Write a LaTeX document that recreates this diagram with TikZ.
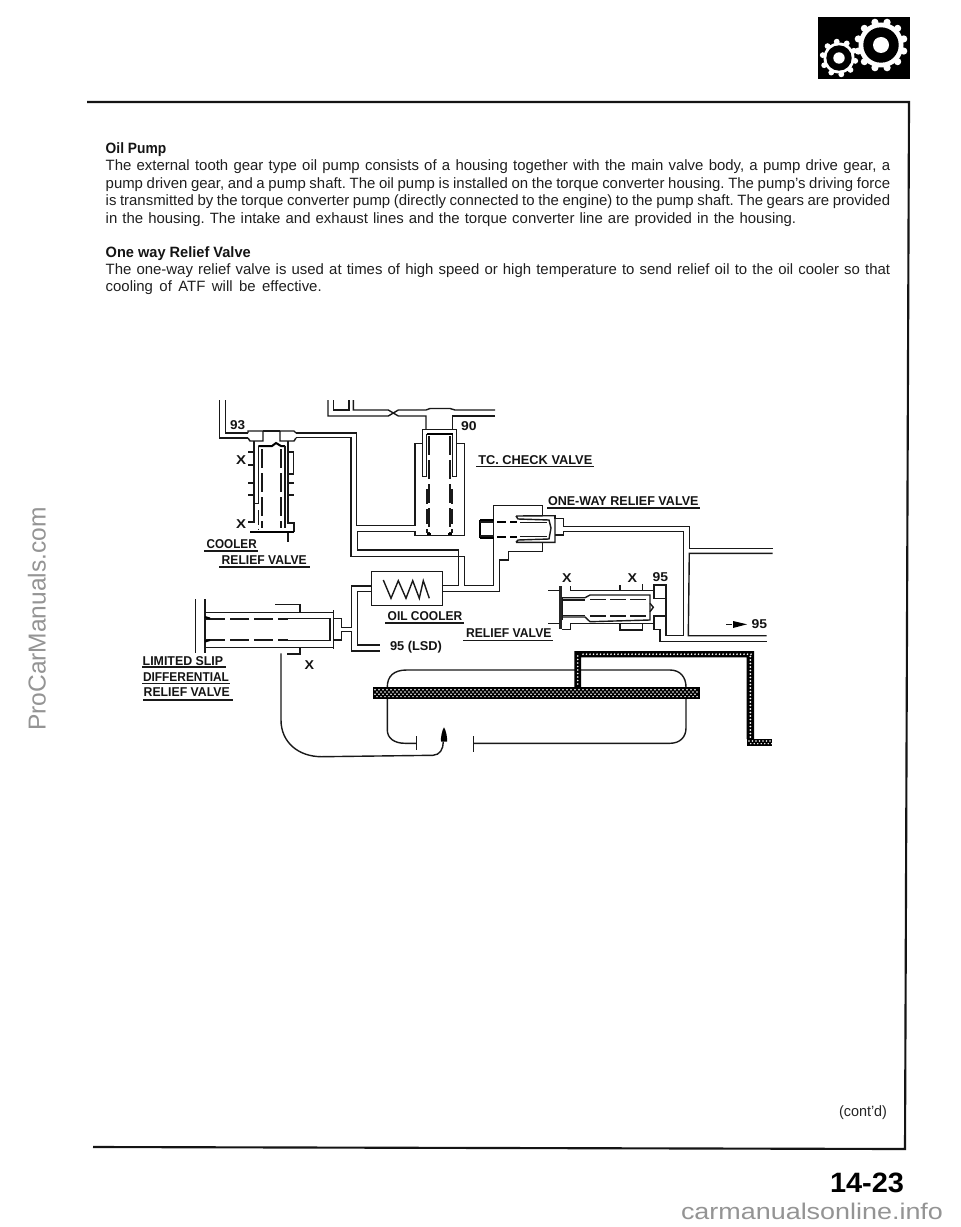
\documentclass[tikz,border=0pt]{standalone}
\usepackage{fontspec}
\setmainfont{Liberation Sans}[Ligatures=ResetAll]
\newdimen\pxu \pxu=0.75pt
\tikzset{
 ln/.style={line width=1.05pt,line join=miter,color=black!90},
 thk/.style={line width=1.5pt,color=black},
 dsh/.style={line width=1.05pt,dash pattern=on 14pt off 4pt,color=black!90},
 ul/.style={line width=1.2pt,color=black!90},
 tx/.style={anchor=base west,inner sep=0pt,outer sep=0pt},
 bodytext/.style={tx,font=\fontsize{11.2pt}{12pt}\selectfont,color=black!88},
 tagtext/.style={tx,font=\fontsize{9.6pt}{11pt}\bfseries\selectfont,color=black!92},
 wmark/.style={inner sep=0pt,color=black!42,font=\fontsize{18.4pt}{20pt}\selectfont},
 pageframe/.style={line width=1.6pt,color=black!92},
 hdot/.style={fill=white},
}
\newcommand{\lbl}[5]{\node[tagtext] (#1) at (#2,#3) {\resizebox{#4\pxu}{\height}{#5}};}
\newcommand{\fitline}[5]{\node[bodytext] (#1) at (#2,#3) {\makebox[#4\pxu][s]{#5}};}
\begin{document}
\frenchspacing
\begin{tikzpicture}[x=0.75pt,y=-0.75pt]
\useasboundingbox (0,0) rectangle (960,1227);
\fill[white] (0,0) rectangle (960,1227);
% page frame
\draw[pageframe] (87,102) -- (909,102) -- (905,1149) -- (93,1147);
% gear icon
\fill[black] (818,17.5) rectangle (910,79);
\fill[white] (881,45) circle (22.5);
\foreach \a in {0,30,...,330}{\fill[white] (881,45) ++ (\a+15:23.5) circle (3.6);}
\fill[black] (881,45) circle (17.7);
\fill[white] (881,45) circle (8);
\fill[white] (839,58) circle (15.5);
\foreach \a in {0,36,...,324}{\fill[white] (839,58) ++ (\a+10:16.5) circle (2.9);}
\fill[black] (839,58) circle (12.7);
\fill[white] (839,58) circle (5.7);
% body text
\node[tx,font=\fontsize{11.2pt}{12pt}\bfseries\selectfont,color=black!92] (h1) at (105.7,153.7) {\resizebox{60.5\pxu}{\height}{Oil Pump}};
\fitline{l1}{105.7}{171}{784.5}{The external tooth gear type oil pump consists of a housing together with the main valve body, a pump drive gear, a}
\fitline{l2}{105.7}{188.3}{784.5}{pump driven gear, and a pump shaft. The oil pump is installed on the torque converter housing. The pump's driving force}
\fitline{l3}{105.7}{205.7}{784.5}{is transmitted by the torque converter pump (directly connected to the engine) to the pump shaft. The gears are provided}
\fitline{l4}{105.7}{223}{690.5}{in the housing. The intake and exhaust lines and the torque converter line are provided in the housing.}
\node[tx,font=\fontsize{11.2pt}{12pt}\bfseries\selectfont,color=black!92] (h2) at (105.7,257) {\resizebox{145\pxu}{\height}{One way Relief Valve}};
\fitline{l5}{105.7}{274.3}{784.5}{The one-way relief valve is used at times of high speed or high temperature to send relief oil to the oil cooler so that}
\fitline{l6}{105.7}{291.7}{216}{cooling of ATF will be effective.}
% left valve
\draw[ln] (219.3,400) -- (219.3,438) -- (248,438);
\draw[ln] (225.7,400) -- (225.7,433) -- (248,433);
\draw[ln] (248,433) -- (248,431) -- (263,431) -- (263,441) -- (250,441) -- (248,438);
\draw[ln] (296,433) -- (294,431) -- (280,431) -- (280,441) -- (294,441) -- (296,438);
\draw[ln] (263,431) -- (280,431);
\draw[ln] (296,433) -- (356.7,433) -- (356.7,525.7) -- (415,525.7);
\draw[ln] (296,437.7) -- (351,437.7) -- (351,556.7) -- (464.3,556.7) -- (464.3,585.7) -- (493.3,585.7) -- (493.3,520);
\draw[ln] (254,441) -- (254,503.5) -- (258.3,503.5);
\draw[ln] (254,503.5) -- (254,522) -- (248,522);
\draw[ln] (288,441) -- (288,523) -- (294,523) -- (294,531.5);
\draw[thk] (258.3,446) -- (272,446) -- (276,443) -- (281,446) -- (285,446);
\draw[ln] (258.3,503.5) -- (258.3,446);
\draw[ln] (285,446) -- (285,528);
\draw[ln,dash pattern=on 11pt off 3pt] (258.3,510) -- (258.3,529);
\draw[dsh] (262,449) -- (262,528);
\draw[dsh] (281,449) -- (281,528);
\draw[ln] (288,452) -- (293.5,452) -- (293.5,474) -- (288,474);
\foreach \yy in {452,465,483,495}{\draw[ln] (248,\yy) -- (254,\yy);}
\foreach \yy in {483,495}{\draw[ln] (288,\yy) -- (294,\yy);}
\draw[thk] (250,532) -- (294,532);
\draw[ln] (288,533) -- (288,542);
% TC check valve piping
\draw[ln] (328,400) -- (328,416) -- (388.3,416) -- (393.3,413) -- (398.3,416) -- (426,416) -- (426,429.3);
\draw[ln] (353.3,400) -- (353.3,410) -- (388.3,410) -- (393.3,413) -- (398.3,410) -- (426,410) -- (430,408.5) -- (450,408.5) -- (455,410) -- (495,410);
\draw[ln] (333.7,400) -- (333.7,410) -- (349,410) -- (349,400);
\draw[ln] (495,416) -- (452.7,416) -- (452.7,429.3);
\draw[ln] (422.7,443.3) -- (415,443.3) -- (415,525.7);
\draw[ln] (457,443.3) -- (464.3,443.3) -- (464.3,535.7) -- (415,535.7) -- (415,531.7) -- (357.7,531.7) -- (357.7,550) -- (458.3,550) -- (458.3,585.7) -- (442.3,585.7);
\draw[ln] (422.7,476.7) -- (422.7,429.3) -- (456.7,429.3) -- (456.7,476.7);
\draw[ln] (426.5,476.7) -- (426.5,434.3);
\draw[ln] (452.7,434.3) -- (452.7,476.7);
\draw[thk] (426.5,434.3) -- (452.7,434.3);
\draw[ln] (422.7,476.7) -- (426.5,476.7) (456.7,476.7) -- (452.7,476.7);
\draw[dsh] (429,436) -- (429,533);
\draw[dsh] (450,436) -- (450,533);
\draw[ln,dash pattern=on 11pt off 4pt] (427,489) -- (427,533);
\draw[ln,dash pattern=on 11pt off 4pt] (452,489) -- (452,533);
\draw[thk] (427,534) -- (431,534) (448,534) -- (452,534);
% one-way relief valve
\draw[ln] (493.3,520) -- (493.3,505.7) -- (542.7,505.7) -- (542.7,515.7);
\draw[ln] (493.3,538) -- (493.3,585.7);
\draw[ln] (542.7,542.3) -- (542.7,551.7) -- (508.3,551.7) -- (508.3,560) -- (499.3,560) -- (499.3,591.7) -- (442.3,591.7);
\draw[thk] (480,520) -- (480,537.5) (480,520) -- (494,520) (480,537.5) -- (494,537.5);
\draw[ln] (480,522) -- (494,522) (480,536) -- (494,536);
\draw[thk,dash pattern=on 7pt off 3pt] (497,522) -- (517,522) (497,537) -- (517,537);
\draw[ln] (516,516) -- (555,515.7) -- (555,542.3) -- (516,542.3) (516,516) -- (518,519) -- (549,520) -- (551,528) -- (549,539) -- (518,540) -- (516,542.3);
\draw[ln] (520,522.5) -- (547,522.5) (520,536.5) -- (547,536.5);
\draw[ln] (542.7,515.7) -- (555,515.7) -- (555,518.3) -- (563.3,518.3) -- (563.3,526.7) -- (689.3,526.7) -- (689.3,548.3) -- (772.7,548.3);
\draw[ln] (555,535) -- (563.3,535) -- (563.3,531.7) -- (683.3,531.7) -- (683.3,635.7) -- (666,635.7);
\draw[ln] (772.7,553.3) -- (689.3,553.3) -- (688.3,635.7) -- (766.7,635.7);
% right relief valve
\draw[line width=2.2pt,color=black!85] (560.7,586) -- (560.7,629.3);
\draw[ln] (548.3,590.7) -- (560,590.7) (548.3,623.3) -- (560,623.3);
\draw[ln] (570.7,586) -- (570.7,590.7) -- (654,590.7) -- (654,585) -- (666,585) -- (666,635.7);
\draw[ln] (654,590.7) -- (654,598.3) -- (666,598.3);
\draw[ln] (666,616) -- (654,616) -- (654,629.3) -- (660,629.3) -- (660,641.7) -- (766.7,641.7);
\draw[ln] (562,629.3) -- (570.7,629.3) -- (570.7,623.3) -- (654,623.3);
\draw[ln] (620,624) -- (620,630) -- (642.7,630) -- (642.7,624);
\draw[ln] (620,585) -- (620,590.7) (642.7,584) -- (642.7,590.7);
\draw[ln] (562.7,597) -- (562.7,620);
\draw[ln] (563,597.7) -- (585,597.7) -- (590,595) -- (650,595) -- (650,620) -- (590,621.7) -- (585,617) -- (563,617);
\draw[ln,dash pattern=on 12pt off 3pt] (590,599.3) -- (648,599.3) (590,616) -- (648,616);
\draw[ln] (650,603.3) -- (653.3,607.3) -- (650,611.7);
\draw[ln] (563,600) -- (585,600) (563,615.5) -- (585,615.5);
% right arrow
\coordinate (arrT) at (747,624.3);
\coordinate (arrS) at (726,624.3);
\draw[ln] (arrS) -- (732,624.3);
\fill[black] (arrT) -- (733,621) -- (733,628) -- cycle;
% limited slip valve
\draw[ln] (195.7,599.3) -- (195.7,652.7);
\draw[ln] (205,599.3) -- (205,652.7);
\draw[ln] (205,612.7) -- (333.3,612.7);
\draw[ln] (205,647.3) -- (333.3,647.3);
\draw[ln] (288,618.3) -- (330,618.3) -- (330,640.7) -- (288,640.7);
\draw[dsh] (206,619) -- (288,619) (206,640) -- (288,640);
\draw[thk] (205,617) -- (210,618.5) (205,641.5) -- (210,640);
\draw[ln] (333.3,610) -- (333.3,649.3);
\draw[ln] (275,604.3) -- (300,604.3) -- (300,612.7);
\draw[ln] (287,654) -- (300,654) -- (300,647.3);
\draw[ln] (333.3,618.3) -- (341.7,618.3) -- (341.7,627.3) -- (351.7,627.3) -- (351.7,586) -- (371.7,586);
\draw[ln] (333.3,640) -- (341.7,640) -- (341.7,631.7) -- (351.7,631.7) -- (351.7,651) -- (380,651);
\draw[ln] (371.7,591.7) -- (357.3,591.7) -- (357.3,645) -- (380,645);
% oil cooler
\draw[ln] (371.7,571.7) rectangle (442.3,605.7);
\draw[ln] (383.3,580) -- (391,598.3) -- (398.3,580.7) -- (406,598.3) -- (412.7,580.7) -- (419.3,598.3) -- (423.3,580.7) -- (429.3,598.3);
% tank
\draw[ln] (387.3,687) .. controls (387.3,676) and (394,670) .. (406.7,670) -- (670,670) .. controls (680,670) and (686,677) .. (686,687) -- (686,728) .. controls (686,737) and (680,743.3) .. (670,743.3) -- (473.3,743.3);
\draw[ln] (473.3,736) -- (473.3,751.7);
\draw[ln] (387.3,699) -- (387.3,730) .. controls (387.3,738) and (394,743.3) .. (405,743.3) -- (416.7,743.3);
\draw[ln] (416.7,736) -- (416.7,750);
\draw[ln] (281,653.3) -- (281,720) .. controls (281,742) and (298,756.7) .. (321.7,756.7) -- (433,755.3) .. controls (440,755) and (443.3,749) .. (443.3,741.7);
\fill[black] (444,727.3) .. controls (446,730) and (447.5,738) .. (447,741.5) -- (441,741.5) .. controls (440.5,738) and (442,730) .. (444,727.3) -- cycle;
% hatched pipes
\fill[black] (373.3,687.3) rectangle (700,699.3);
\fill[black] (574.3,651) -- (754,651) -- (754,739) -- (746.7,739) -- (746.7,657.3) -- (581,657.3) -- (581,687.3) -- (574.3,687.3) -- cycle;
\fill[black] (746.7,739) rectangle (771.7,745.7);
\foreach \i in {0,...,80}{
 \fill[hdot] (375+4*\i,689.8) circle (0.85);
 \fill[hdot] (377+4*\i,692) circle (0.85);
 \fill[hdot] (375+4*\i,694.2) circle (0.85);
 \fill[hdot] (377+4*\i,696.6) circle (0.85);
}
\foreach \i in {0,...,48}{\fill[hdot] (583+3.5*\i,654.2) circle (0.95);}
\foreach \i in {0,...,23}{\fill[hdot] (750.4,656.5+3.5*\i) circle (0.95);}
\foreach \i in {0,...,8}{\fill[hdot] (577.7,656+3.5*\i) circle (0.95);}
\foreach \i in {0,...,6}{\fill[hdot] (749+3.5*\i,741) circle (0.8); \fill[hdot] (750.7+3.5*\i,743.6) circle (0.8);}
% labels
\lbl{n93}{230}{429}{15}{93}
\lbl{x1}{236}{464.5}{10}{X}
\lbl{x2}{236}{528}{10}{X}
\lbl{cool}{206.7}{548.3}{50}{COOLER}
\draw[ul] (204,550.7) -- (258,550.7);
\lbl{rv1}{221.7}{564}{85}{RELIEF VALVE}
\draw[ul] (219,566.7) -- (310,566.7);
\lbl{n90}{461}{430.7}{15.5}{90}
\lbl{tc}{478.3}{464}{114}{TC. CHECK VALVE}
\draw[ul] (476,466.3) -- (594,466.3);
\lbl{ow}{548}{505.7}{150.5}{ONE-WAY RELIEF VALVE}
\draw[ul] (547,508) -- (700,508);
\lbl{x3}{562}{582.3}{9.5}{X}
\lbl{x4}{627.5}{582.3}{9.5}{X}
\lbl{n95a}{652.7}{581}{15.5}{95}
\lbl{oc}{387.7}{620}{74.5}{OIL COOLER}
\draw[ul] (385,622.7) -- (464,622.7);
\lbl{rv2}{466}{637.7}{85.5}{RELIEF VALVE}
\draw[ul] (463,640.3) -- (553,640.3);
\lbl{lsd}{390}{650}{52}{95 (LSD)}
\lbl{ls}{142.7}{665}{80.5}{LIMITED SLIP}
\draw[ul] (142,667) -- (226,667);
\lbl{df}{143}{681}{86}{DIFFERENTIAL}
\draw[ul] (142,683.3) -- (230,683.3);
\lbl{rv3}{143.7}{696.7}{86}{RELIEF VALVE}
\draw[ul] (143,699.7) -- (233,699.7);
\lbl{x5}{304.5}{669}{9.5}{X}
\lbl{n95b}{751.7}{628.3}{15.5}{95}
% footer
\node[tx,font=\fontsize{11.2pt}{12pt}\selectfont,color=black!85] (cont) at (839,1116) {\resizebox{48\pxu}{\height}{(cont'd)}};
\node[tx,font=\fontsize{21pt}{24pt}\bfseries\selectfont] (pg) at (830,1192) {\resizebox{74\pxu}{\height}{14-23}};
\node[tx,font=\fontsize{17pt}{20pt}\selectfont,color=black!42] (wm2) at (681,1219) {\resizebox{262\pxu}{\height}{carmanualsonline.info}};
\node[wmark,rotate=90,anchor=base east] (wm1) at (45.7,507) {ProCarManuals.com};
\end{tikzpicture}
\end{document}
